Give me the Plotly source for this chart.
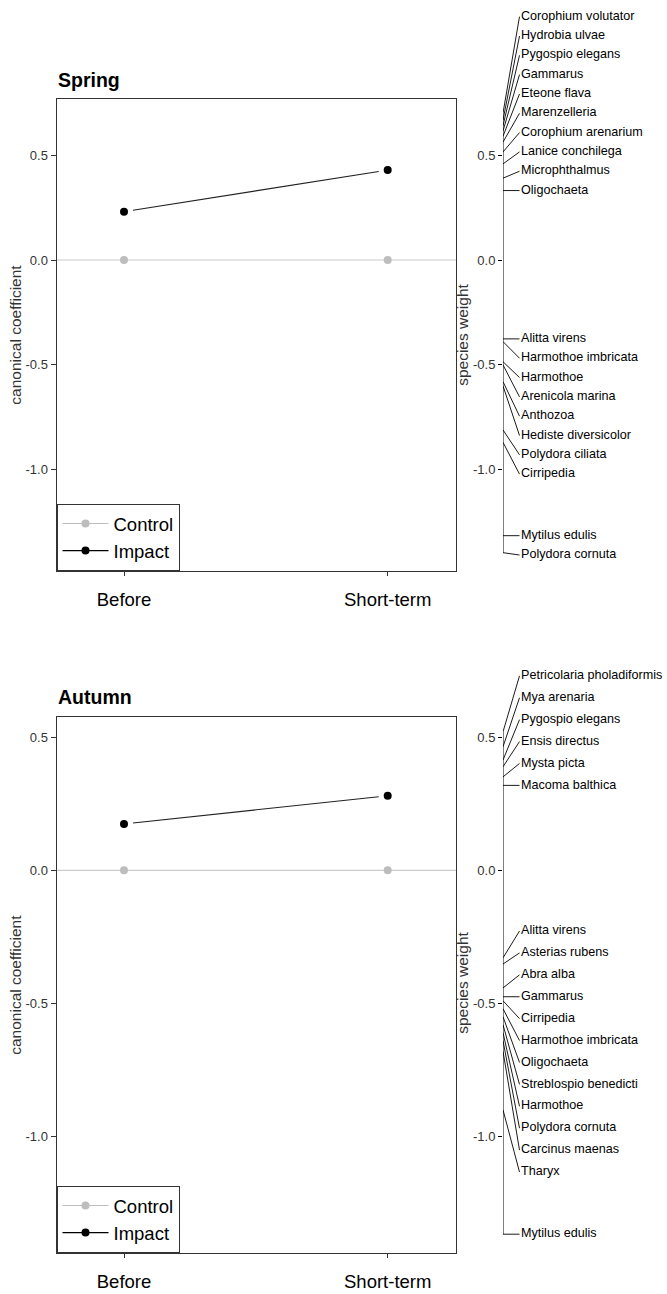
import plotly.graph_objects as go

# ---------------- data ----------------
periods = ["Before", "Short-term"]
groups = ["Control", "Impact"]

spring_control = [0.0, 0.0]
spring_impact = [0.230, 0.429]
autumn_control = [0.0, 0.0]
autumn_impact = [0.174, 0.280]

spring_species = [
    "Corophium volutator", "Hydrobia ulvae", "Pygospio elegans", "Gammarus",
    "Eteone flava", "Marenzelleria", "Corophium arenarium", "Lanice conchilega",
    "Microphthalmus", "Oligochaeta", "Alitta virens", "Harmothoe imbricata",
    "Harmothoe", "Arenicola marina", "Anthozoa", "Hediste diversicolor",
    "Polydora ciliata", "Cirripedia", "Mytilus edulis", "Polydora cornuta",
]
spring_weights = [
    0.700, 0.667, 0.640, 0.615,
    0.590, 0.562, 0.515, 0.458,
    0.390, 0.331, -0.376, -0.389,
    -0.485, -0.500, -0.580, -0.600,
    -0.810, -0.869, -1.314, -1.395,
]

autumn_species = [
    "Petricolaria pholadiformis", "Mya arenaria", "Pygospio elegans",
    "Ensis directus", "Mysta picta", "Macoma balthica", "Alitta virens",
    "Asterias rubens", "Abra alba", "Gammarus", "Cirripedia",
    "Harmothoe imbricata", "Oligochaeta", "Streblospio benedicti", "Harmothoe",
    "Polydora cornuta", "Carcinus maenas", "Tharyx", "Mytilus edulis",
]
autumn_weights = [
    0.520, 0.464, 0.414,
    0.389, 0.351, 0.319, -0.329,
    -0.352, -0.442, -0.475, -0.490,
    -0.520, -0.550, -0.580, -0.610,
    -0.640, -0.680, -0.900, -1.367,
]

y_ticks = [-1.0, -0.5, 0.0, 0.5]

# ---------------- layout constants ----------------
W, H = 667, 1294
FONT = "Liberation Sans, Arial, sans-serif"
GREY = "#bdbdbd"
ZERO_LINE = "#cccccc"
BOX = "#333333"


def fx(px):
    return px / W


def fy(px):
    return 1 - px / H


def linestack(values, ht):
    """vegan::linestack label spreading."""
    order = sorted(range(len(values)), key=lambda i: values[i])
    xs = [values[i] for i in order]
    n = len(xs)
    pos = [0.0] * n
    mid = (n + 1) // 2 - 1
    pos[mid] = xs[mid]
    for i in range(mid + 1, n):
        pos[i] = max(xs[i], pos[i - 1] + ht)
    for i in range(mid - 1, -1, -1):
        pos[i] = min(xs[i], pos[i + 1] - ht)
    out = [0.0] * n
    for k, i in enumerate(order):
        out[i] = pos[k]
    return out


panels = [
    dict(title="Spring", control=spring_control, impact=spring_impact,
         species=spring_species, weights=spring_weights,
         zero=260.0, scale=209.8, top=99.0, bottom=571.0,
         sp_top=0.0, sp_bottom=670.0, ht=0.0921, title_y=80.0,
         legend="legend"),
    dict(title="Autumn", control=autumn_control, impact=autumn_impact,
         species=autumn_species, weights=autumn_weights,
         zero=870.3, scale=266.2, top=717.3, bottom=1253.0,
         sp_top=672.0, sp_bottom=1294.0, ht=0.0823, title_y=697.0,
         legend="legend2"),
]

XL, XR = 56.5, 456.0          # main plot box (px)
SP_X0 = 503.0                 # species axis position (px)
SP_RANGE = W - SP_X0          # species panel x range in px units
HOFF = 16.5                   # bracket length (px units)
GAP = 0.034                   # gap between points and connecting line

xpos = list(range(len(periods)))
x_lo, x_hi = -0.256, 1.259

fig = go.Figure()
layout = dict(
    width=W, height=H, margin=dict(l=0, r=0, t=0, b=0),
    paper_bgcolor="white", plot_bgcolor="white",
    font=dict(family=FONT, color="black"),
    showlegend=True, annotations=[], shapes=[],
)

for k, p in enumerate(panels):
    xa = "x" if k == 0 else f"x{2 * k + 1}"
    ya = "y" if k == 0 else f"y{2 * k + 1}"
    xs_ = f"x{2 * k + 2}"
    ys_ = f"y{2 * k + 2}"
    xa_key = "xaxis" if k == 0 else f"xaxis{2 * k + 1}"
    ya_key = "yaxis" if k == 0 else f"yaxis{2 * k + 1}"
    xs_key = f"xaxis{2 * k + 2}"
    ys_key = f"yaxis{2 * k + 2}"

    yr = [(p["zero"] - p["bottom"]) / p["scale"], (p["zero"] - p["top"]) / p["scale"]]
    ysr = [(p["zero"] - p["sp_bottom"]) / p["scale"], (p["zero"] - p["sp_top"]) / p["scale"]]

    # zero reference line (control)
    layout["shapes"].append(dict(type="line", xref=f"{xa} domain", yref=ya,
                                 x0=0, x1=1, y0=0, y1=0,
                                 line=dict(color=ZERO_LINE, width=1.2), layer="below"))

    # control points
    fig.add_trace(go.Scatter(x=xpos, y=p["control"], mode="markers",
                             marker=dict(color=GREY, size=8), showlegend=False,
                             xaxis=xa, yaxis=ya, hoverinfo="skip"))
    # impact connecting line with gaps (type = "b")
    y0, y1 = p["impact"]
    lx = [xpos[0] + GAP, xpos[1] - GAP]
    ly = [y0 + (y1 - y0) * GAP, y1 - (y1 - y0) * GAP]
    fig.add_trace(go.Scatter(x=lx, y=ly, mode="lines",
                             line=dict(color="#222222", width=1.1), showlegend=False,
                             xaxis=xa, yaxis=ya, hoverinfo="skip"))
    fig.add_trace(go.Scatter(x=xpos, y=p["impact"], mode="markers",
                             marker=dict(color="black", size=8), showlegend=False,
                             xaxis=xa, yaxis=ya, hoverinfo="skip"))
    # legend entries
    for g, col in zip(groups, [GREY, "black"]):
        fig.add_trace(go.Scatter(x=[None], y=[None], mode="lines+markers", name=g,
                                 line=dict(color=col, width=1.1),
                                 marker=dict(color=col, size=8),
                                 legend=p["legend"], xaxis=xa, yaxis=ya))

    # species weights: axis line, brackets, labels
    pos = linestack(p["weights"], p["ht"])
    fig.add_trace(go.Scatter(x=[0, 0], y=[min(p["weights"]), max(p["weights"])],
                             mode="lines", line=dict(color="black", width=1),
                             showlegend=False, xaxis=xs_, yaxis=ys_, hoverinfo="skip"))
    bx, by = [], []
    for w, q in zip(p["weights"], pos):
        bx += [0, HOFF, None]
        by += [w, q, None]
    fig.add_trace(go.Scatter(x=bx, y=by, mode="lines",
                             line=dict(color="black", width=0.9),
                             showlegend=False, xaxis=xs_, yaxis=ys_, hoverinfo="skip"))
    fig.add_trace(go.Scatter(x=[HOFF + 1.5] * len(pos), y=pos, text=p["species"],
                             mode="text", textposition="middle right",
                             textfont=dict(size=12.6, color="black", family=FONT),
                             cliponaxis=False, showlegend=False,
                             xaxis=xs_, yaxis=ys_, hoverinfo="skip"))

    layout[xa_key] = dict(domain=[fx(XL), fx(XR)], range=[x_lo, x_hi],
                          tickvals=xpos, ticktext=periods, ticks="outside", ticklen=4,
                          tickcolor=BOX, showline=True, mirror=True, linecolor=BOX,
                          linewidth=1, showgrid=False, zeroline=False,
                          tickfont=dict(size=18.5, color="black"), anchor=ya,
                          ticklabelstandoff=8)
    layout[ya_key] = dict(domain=[fy(p["bottom"]), fy(p["top"])], range=yr,
                          tickvals=y_ticks, ticktext=[f"{v:.1f}" for v in y_ticks],
                          ticks="outside", ticklen=5, tickcolor=BOX,
                          showline=True, mirror=True, linecolor=BOX, linewidth=1,
                          showgrid=False, zeroline=False,
                          tickfont=dict(size=13, color="#333333"), anchor=xa,
                          title=dict(text="canonical coefficient", standoff=0,
                                     font=dict(size=15.5, color="#333333")))
    layout[xs_key] = dict(domain=[fx(SP_X0), 1], range=[0, SP_RANGE], visible=False,
                          anchor=ys_)
    layout[ys_key] = dict(domain=[fy(p["sp_bottom"]), fy(p["sp_top"])], range=ysr,
                          tickvals=y_ticks, ticktext=[f"{v:.1f}" for v in y_ticks],
                          ticks="outside", ticklen=4, tickcolor="black",
                          showline=False, showgrid=False, zeroline=False,
                          tickfont=dict(size=13, color="#333333"), anchor=xs_,
                          title=dict(text="species weight", standoff=0,
                                     font=dict(size=15.5, color="#333333")))

    layout[p["legend"]] = dict(x=fx(XL), y=fy(p["bottom"]), xanchor="left", yanchor="bottom",
                               bgcolor="white", bordercolor=BOX, borderwidth=1,
                               font=dict(size=18.5, color="black"), itemwidth=46,
                               tracegroupgap=0)

    layout["annotations"].append(dict(text=f"<b>{p['title']}</b>", xref="paper", yref="paper",
                                      x=fx(56), y=fy(p["title_y"]), xanchor="left",
                                      yanchor="middle", showarrow=False,
                                      font=dict(size=19.5, color="black")))

fig.update_layout(**layout)
fig.write_html("out.html")
